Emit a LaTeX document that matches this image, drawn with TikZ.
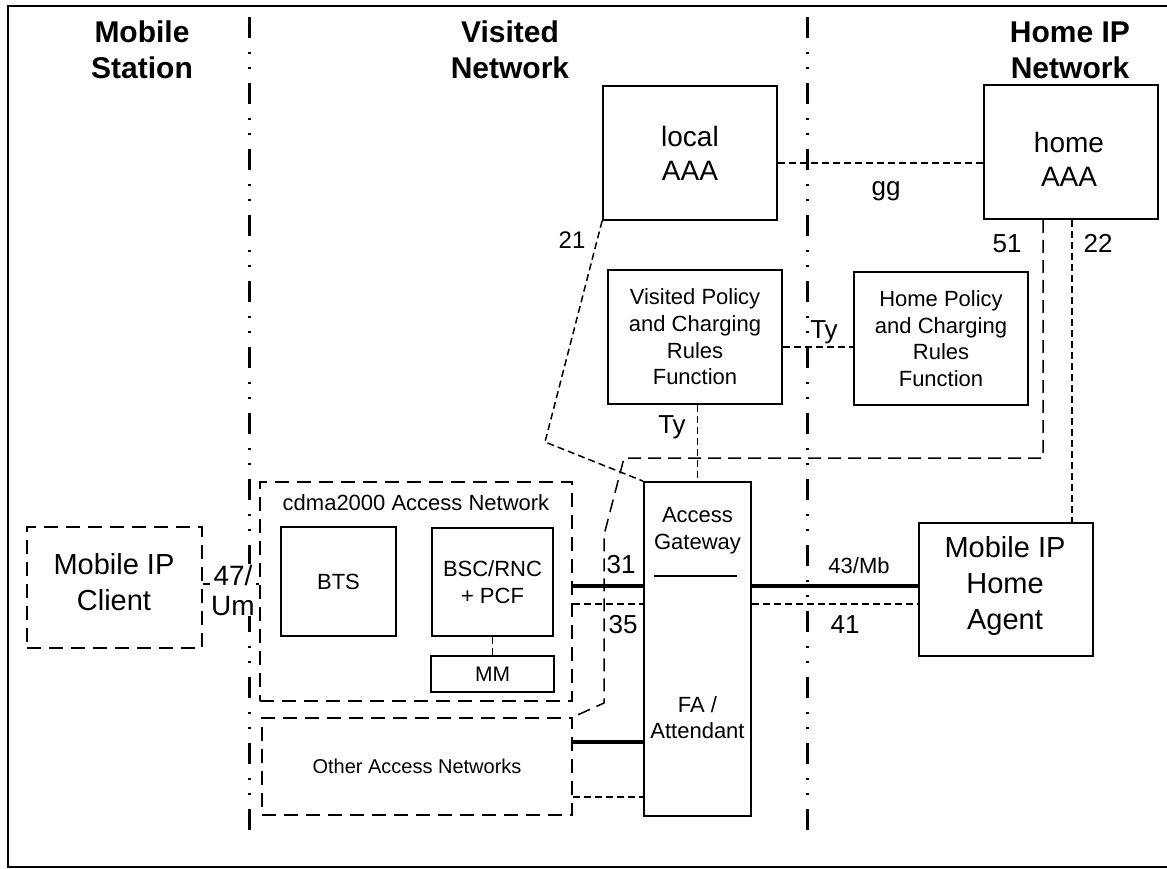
\documentclass[tikz,border=0pt]{standalone}
\usepackage{fontspec}
\setmainfont{Liberation Sans}
\newcommand{\fsz}[2]{\fontsize{#1}{#2}\selectfont}
\begin{document}
\begin{tikzpicture}[x=1pt,y=-1pt,
  frame/.style={line width=2.5pt},
  box/.style={draw, line width=1.8pt, inner sep=0pt, align=center},
  dbox/.style={draw, line width=1.8pt, dash pattern=on 14pt off 8pt, inner sep=0pt, align=center},
  border/.style={line width=3pt, dash pattern=on 21pt off 14pt on 2pt off 13pt on 2pt off 14pt},
  dlink/.style={line width=1.5pt, dash pattern=on 7pt off 4pt},
  longlink/.style={line width=1.5pt, dash pattern=on 13pt off 7pt},
  bearer/.style={line width=3.2pt},
  head/.style={font=\fsz{30}{36}\bfseries, align=center, inner sep=0pt},
  lbl/.style={font=\fsz{26}{30}, inner sep=0pt, anchor=base},
  txt/.style={inner sep=0pt, align=center}]
\useasboundingbox (0,0) rectangle (1167,869);

% outer frame
\draw[frame] (1167,6) -- (8,6) -- (8,867) -- (1167,867);

% domain borders
\draw[border] (249,17) -- (249,830);
\draw[border] (807,17) -- (807,830);

% domain headings
\node[head] (hms) at (142,50) {Mobile\\Station};
\node[head] (hvn) at (510,50) {Visited\\Network};
\node[head] (hhn) at (1070,50) {Home IP\\Network};

% AAA servers
\node[box, minimum width=174, minimum height=134, font=\fsz{28}{34}] (laaa) at (690,153) {local\\AAA};
\node[box, minimum width=174, minimum height=134] (haaa) at (1071,152) {};
\node[txt, font=\fsz{28}{34}] (haaat) at (1069,159) {home\\AAA};

% policy functions
\node[box, minimum width=174, minimum height=134, font=\fsz{22}{26.7}] (vpcrf) at (695,337)
  {Visited Policy\\and Charging\\Rules\\Function};
\node[box, minimum width=174, minimum height=133, font=\fsz{22}{26.7}] (hpcrf) at (941,338.5)
  {Home Policy\\and Charging\\Rules\\Function};

% access gateway
\node[box, minimum width=107, minimum height=334] (ag) at (697.5,649) {};
\node[txt, font=\fsz{22}{27}] (agt) at (697.5,531) {Access\\Gateway};
\node[txt, font=\fsz{22}{26}] (fat) at (697.5,718) {FA /\\Attendant};
\draw[line width=1.5pt] (654,576) -- (737,576);

% home agent
\node[box, minimum width=174, minimum height=133] (ha) at (1006,589.5) {};
\node[txt, font=\fsz{29}{36}] (hat) at (1005,586) {Mobile IP\\Home\\Agent};

% mobile station
\node[dbox, minimum width=175, minimum height=121] (msc) at (114.5,587.5) {};
\node[txt, font=\fsz{29}{36}] (msct) at (114,582) {Mobile IP\\Client};

% access networks
\node[dbox, minimum width=312, minimum height=219] (cdma) at (416,591.5) {};
\node[txt, font=\fsz{22}{26}] (cdmat) at (416,503) {cdma2000 Access Network};
\node[box, minimum width=115, minimum height=109, font=\fsz{22}{26}] (bts) at (338.5,581.5) {BTS};
\node[box, minimum width=121, minimum height=108, font=\fsz{22}{27}] (bsc) at (492.5,582) {BSC/RNC\\+ PCF};
\node[box, minimum width=123, minimum height=36, font=\fsz{21}{25}] (mm) at (492.5,674) {MM};
\node[dbox, minimum width=310, minimum height=97, font=\fsz{20}{24}] (oan) at (417,766.5) {Other Access Networks};

% reference levels for connectors
\coordinate (yGG) at (0,163);
\coordinate (yTY) at (0,347);
\coordinate (yUM) at (0,584);
\coordinate (yB) at (0,586);
\coordinate (yS) at (0,604);
\coordinate (yOB) at (0,742);
\coordinate (yOS) at (0,797);
\coordinate (x51) at (1043,0);
\coordinate (x22) at (1072,0);
\coordinate (b21) at (545,442);
\coordinate (p51a) at (1043,458);
\coordinate (p51b) at (624,458);
\coordinate (p51c) at (604,535);
\coordinate (p51d) at (604,703);

% AAA and policy interfaces
\draw[dlink] (laaa.east |- yGG) -- (haaa.west |- yGG);
\draw[dlink] (laaa.south west) -- (b21) -- (ag.north west);
\draw[dlink] (x22 |- haaa.south) -- (x22 |- ha.north);
\draw[longlink] (x51 |- haaa.south) -- (p51a) -- (p51b) -- (p51c) -- (p51d) -- (oan.north east);
\draw[dlink] (vpcrf.east |- yTY) -- (hpcrf.west |- yTY);
\draw[dlink] (ag.north |- vpcrf.south) -- (ag.north);
\draw[dlink] (bsc.south) -- (mm.north);

% bearer and signalling links
\draw[line width=1.8pt] (msc.east |- yUM) -- (cdma.west |- yUM);
\draw[bearer] (cdma.east |- yB) -- (ag.west |- yB);
\draw[dlink] (cdma.east |- yS) -- (ag.west |- yS);
\draw[bearer] (ag.east |- yB) -- (ha.west |- yB);
\draw[dlink] (ag.east |- yS) -- (ha.west |- yS);
\draw[bearer] (oan.east |- yOB) -- (ag.west |- yOB);
\draw[dlink] (oan.east |- yOS) -- (ag.west |- yOS);

% interface labels
\node[txt, font=\fsz{28}{30}, fill=white, inner sep=1pt] (l47) at (233,590) {47/\\Um};
\node[lbl, font=\fsz{24}{28}] (l21) at (572,248) {21};
\node[lbl] (lgg) at (886,196) {gg};
\node[lbl] (l51) at (1007,252) {51};
\node[lbl] (l22) at (1098,252) {22};
\node[lbl] (lty1) at (824,338) {Ty};
\node[lbl] (lty2) at (672,433) {Ty};
\node[lbl] (l31) at (621,573) {31};
\node[lbl] (l35) at (623,633) {35};
\node[lbl, font=\fsz{22}{26}] (l43) at (859,573) {43/Mb};
\node[lbl] (l41) at (845,633) {41};
\end{tikzpicture}
\end{document}
